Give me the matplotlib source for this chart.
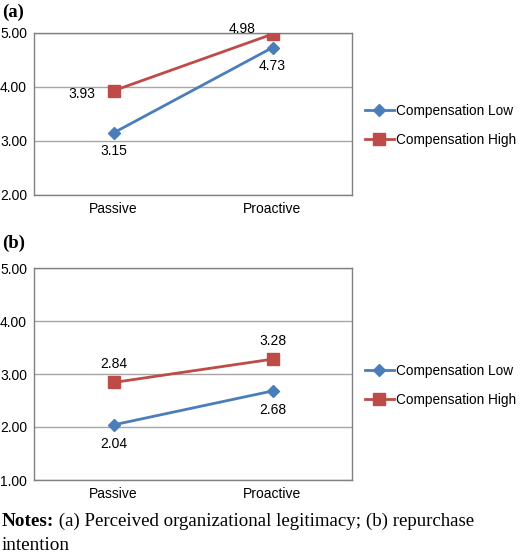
import numpy as np
import matplotlib.pyplot as plt

plt.rcParams['font.family'] = ['Liberation Sans', 'DejaVu Sans']

# data
cats = ["Passive", "Proactive"]
legit_low = [3.15, 4.73]
legit_high = [3.93, 4.98]
rep_low = [2.04, 2.68]
rep_high = [2.84, 3.28]

blue = '#4a7ebb'
red = '#be4b48'
fs = 10

fig = plt.figure(figsize=(5.2, 5.55), dpi=100)
ax1 = fig.add_axes([34/520, 1-195/555, 318/520, 162/555])
ax2 = fig.add_axes([34/520, 1-480/555, 318/520, 212/555])


def panel(ax, low, high, ylo, offs_low, offs_high, leg_y):
    x = np.arange(len(cats))
    ax.plot(x, low, color=blue, lw=2, marker='D', ms=6, label="Compensation Low", zorder=3)
    ax.plot(x, high, color=red, lw=2, marker='s', ms=8, label="Compensation High", zorder=3)
    for xi, v, o in zip(x, low, offs_low):
        ax.annotate("%.2f" % v, (xi, v), xytext=o, textcoords='offset points',
                    ha='center', va='center', fontsize=fs)
    for xi, v, o in zip(x, high, offs_high):
        ax.annotate("%.2f" % v, (xi, v), xytext=o, textcoords='offset points',
                    ha='center', va='center', fontsize=fs)
    ax.set_xlim(-0.5, 1.5)
    ax.set_ylim(ylo, 5)
    ax.set_yticks(np.arange(ylo, 5.01, 1))
    ax.set_yticklabels(["%.2f" % t for t in np.arange(ylo, 5.01, 1)])
    ax.set_xticks(x)
    ax.set_xticklabels(cats)
    ax.tick_params(length=0, labelsize=fs, pad=5)
    ax.yaxis.grid(True, color='#a6a6a6', lw=1)
    ax.set_axisbelow(True)
    for s in ax.spines.values():
        s.set_color('#808080')
        s.set_linewidth(1)
    ax.legend(loc='center left', bbox_to_anchor=(365/520, 1-leg_y/555),
              bbox_transform=fig.transFigure, frameon=False, borderpad=0, borderaxespad=0,
              fontsize=9.8, handlelength=2.1, handletextpad=0.15, labelspacing=1.1)


panel(ax1, legit_low, legit_high, 2, [(0, -13), (0, -13)], [(-23, -2), (-22, 4)], 125.5)
panel(ax2, rep_low, rep_high, 1, [(0, -14), (0, -14)], [(0, 13), (0, 13)], 385.5)

fig.text(2/520, 1-12/555, "(a)", fontsize=13.5, fontweight='bold', family='Liberation Serif', va='center')
fig.text(2/520, 1-243/555, "(b)", fontsize=13.5, fontweight='bold', family='Liberation Serif', va='center')

t = fig.text(2/520, 1-526/555, "Notes:", fontsize=13.8, fontweight='bold',
             family='Liberation Serif', va='baseline')
ax1.annotate(" (a) Perceived organizational legitimacy; (b) repurchase", xy=(1, 0),
             xycoords=t, va='bottom', ha='left', fontsize=13.6, family='Liberation Serif',
             annotation_clip=False)
fig.text(2/520, 1-550/555, "intention", fontsize=13.8, family='Liberation Serif', va='baseline')

plt.savefig("out.png")
